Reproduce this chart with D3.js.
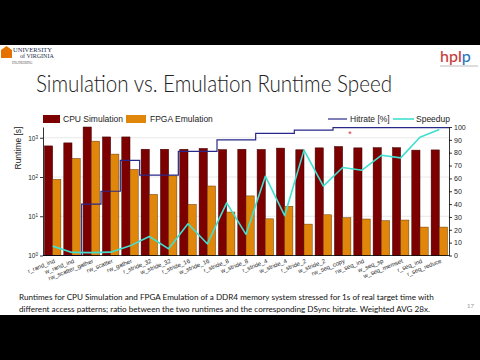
<!DOCTYPE html>
<html><head><meta charset="utf-8">
<script src="https://cdn.jsdelivr.net/npm/d3@7"></script>
<style>html,body{margin:0;padding:0;background:#000;} svg{display:block}</style>
</head><body>
<svg id="c" width="480" height="360"></svg>
<script>
// ---------- data ----------
const categories = ["r_rand_ind","w_rand_ind","rw_scatter_gather","rw_scatter","rw_gather",
  "r_stride_32","w_stride_32","r_stride_16","w_stride_16","r_stride_8","w_stride_8",
  "r_stride_4","w_stride_4","r_stride_2","w_stride_2","rw_seq_copy","rw_seq_ind",
  "w_seq_sp","w_seq_memset","r_seq_ind","r_seq_reduce"];
const cpuSim   = [620,740,2000,1050,1050,510,510,510,535,500,510,505,545,494,553,600,553,560,560,484,490];
const fpgaEmu  = [87,297,819,383,156,36,107,20,59,12.8,33,8.6,18,6.3,10.9,9.2,8.5,7.7,8.0,5.3,5.3];
const hitrate  = [0,0,40,50,74,62.5,62.5,81,81,90,90,95,95,97.5,97.5,99.5,99.5,99.5,99.5,99.5,99.5];
const speedup  = [7.3,2.4,2.2,2.6,7.5,14.8,5.2,24.7,9.1,41,16.4,61.7,31,82,54,68.5,66.4,78,76,92,98];
const leftTicks  = [1,10,100,1000];
const leftTickExp = ["0","1","2","3"];
const rightTicks = [0,10,20,30,40,50,60,70,80,90,100];
const seriesNames = ["CPU Simulation","FPGA Emulation"];
const lineNames = ["Hitrate [%]","Speedup"];
const title = "Simulation vs. Emulation Runtime Speed";
const caption1 = "Runtimes for CPU Simulation and FPGA Emulation of a DDR4 memory system stressed for 1s of real target time with";
const caption2 = "different access patterns; ratio between the two runtimes and the corresponding DSync hitrate. Weighted AVG 28x.";

// ---------- styles ----------
const cpuColor = "#7d0000", fpgaColor = "#e0860a", hitColor = "#28288a", spdColor = "#3fe0d0";
const svg = d3.select("#c");
svg.append("rect").attr("x",0).attr("y",45).attr("width",480).attr("height",270).attr("fill","#fff");

// logos
const uva = svg.append("g");
uva.append("rect").attr("x",1).attr("y",50).attr("width",11).attr("height",8).attr("fill","#e57200");
uva.append("path").attr("d","M1,50 L6.5,46 L12,50 Z").attr("fill","#e57200");
uva.append("text").attr("x",13).attr("y",52).attr("font-family","Liberation Serif").attr("font-size",6.5).attr("fill","#232d4b").text("UNIVERSITY");
uva.append("text").attr("x",20).attr("y",58).attr("font-family","Liberation Serif").attr("font-size",6).attr("fill","#232d4b").text("of VIRGINIA");
uva.append("text").attr("x",12).attr("y",64).attr("font-family","Liberation Serif").attr("font-size",3).attr("fill","#555").text("ENGINEERING");
const hp = svg.append("text").attr("x",440).attr("y",62).attr("font-family","Lato, sans-serif").attr("font-size",16).attr("font-weight",500);
hp.append("tspan").attr("fill","#c83a3a").text("hpl");
hp.append("tspan").attr("fill","#2a78c0").text("p");
svg.append("line").attr("x1",440).attr("x2",478).attr("y1",66).attr("y2",66).attr("stroke","#bbb").attr("stroke-width",1);

// title
svg.append("text").attr("x",36).attr("y",92).attr("font-family","Lato, sans-serif").attr("font-weight",300)
  .attr("font-size",23).attr("fill","#222").attr("textLength",356).attr("lengthAdjust","spacingAndGlyphs").text(title);

// ---------- chart ----------
const L = 43, R = 449, T = 127, B = 255.5;
const x0 = d3.scaleBand().domain(categories).range([L,R]).paddingInner(0.15).paddingOuter(0.075);
const x1 = d3.scaleBand().domain(["cpu","fpga"]).range([0,x0.bandwidth()]);
const yL = d3.scaleLog().domain([1,1880]).range([B,T]).clamp(true);
const yR = d3.scaleLinear().domain([0,100]).range([B,T]);

// grid
svg.append("g").selectAll("line").data(leftTicks.slice(1)).join("line")
  .attr("x1",L).attr("x2",R).attr("y1",d=>yL(d)).attr("y2",d=>yL(d))
  .attr("stroke","#e2e2e2").attr("stroke-width",0.8);

// bars
const g = svg.append("g");
categories.forEach((c,i)=>{
  g.append("rect").attr("x",x0(c)+x1("cpu")).attr("width",x1.bandwidth())
    .attr("y",yL(cpuSim[i])).attr("height",B-yL(cpuSim[i]))
    .attr("fill",cpuColor).attr("stroke","#3a0000").attr("stroke-width",0.5);
  g.append("rect").attr("x",x0(c)+x1("fpga")).attr("width",x1.bandwidth())
    .attr("y",yL(fpgaEmu[i])).attr("height",B-yL(fpgaEmu[i]))
    .attr("fill",fpgaColor).attr("stroke","#6a3a00").attr("stroke-width",0.5);
});

// hitrate step line
const step = x0.step();
const hitPts = hitrate.map((h,i)=>[L+i*step,h]);
hitPts.push([R,hitrate[hitrate.length-1]]);
svg.append("path").datum(hitPts)
  .attr("d",d3.line().x(d=>d[0]).y(d=>yR(d[1])).curve(d3.curveStepAfter))
  .attr("fill","none").attr("stroke",hitColor).attr("stroke-width",1.2);

// speedup line
svg.append("path").datum(speedup)
  .attr("d",d3.line().x((d,i)=>x0(categories[i])+x0.bandwidth()/2).y(d=>yR(d)))
  .attr("fill","none").attr("stroke",spdColor).attr("stroke-width",1.6).attr("stroke-linejoin","round");

// red marker
svg.append("text").attr("x",350).attr("y",137).attr("text-anchor","middle").attr("font-family","Liberation Sans").attr("font-size",9).attr("fill","#e03030").text("*");

// axes
const axL = svg.append("g").attr("transform",`translate(${L},0)`)
  .call(d3.axisLeft(yL).tickValues(leftTicks).tickFormat("").tickSize(3).tickSizeOuter(0));
axL.selectAll(".tick").append("text").attr("x",-5).attr("dy","0.35em").attr("text-anchor","end")
  .attr("fill","#222").attr("font-family","Liberation Sans").attr("font-size",6.5)
  .each(function(d,i){
    const t = d3.select(this);
    t.append("tspan").text("10");
    t.append("tspan").attr("dy","-0.45em").attr("font-size",4.5).text(leftTickExp[i]);
  });
const axR = svg.append("g").attr("transform",`translate(${R},0)`)
  .call(d3.axisRight(yR).tickValues(rightTicks).tickSize(3).tickSizeOuter(0));
axR.selectAll("text").attr("font-family","Liberation Sans").attr("font-size",7).attr("fill","#222").attr("x",5);
svg.append("line").attr("x1",L).attr("x2",R).attr("y1",B).attr("y2",B).attr("stroke","#000").attr("stroke-width",0.8);
[axL,axR].forEach(a=>{a.selectAll("path,line").attr("stroke","#000").attr("stroke-width",0.8);});

// x labels
svg.append("g").selectAll("text").data(categories).join("text")
  .attr("transform",d=>`translate(${x0(d)+x0.bandwidth()/2+1},${B+3}) rotate(-22)`)
  .attr("dy","0.7em").attr("text-anchor","end")
  .attr("font-family","Liberation Sans").attr("font-size",6).attr("fill","#222").text(d=>d);

// y label
svg.append("text").attr("transform","translate(21,148) rotate(-90)").attr("text-anchor","middle")
  .attr("font-family","Liberation Sans").attr("font-size",8.5).attr("fill","#222").text("Runtime [s]");

// legends
const lg = svg.append("g").attr("font-family","Liberation Sans").attr("font-size",8.5).attr("fill","#222");
lg.append("rect").attr("x",43).attr("y",115).attr("width",17).attr("height",8).attr("fill",cpuColor);
lg.append("text").attr("x",63).attr("y",122).text(seriesNames[0]);
lg.append("rect").attr("x",126).attr("y",115).attr("width",20).attr("height",8).attr("fill",fpgaColor);
lg.append("text").attr("x",150).attr("y",122).text(seriesNames[1]);
lg.append("line").attr("x1",328).attr("x2",347).attr("y1",119).attr("y2",119).attr("stroke",hitColor).attr("stroke-width",1.2);
lg.append("text").attr("x",350).attr("y",122).text(lineNames[0]);
lg.append("line").attr("x1",393).attr("x2",414).attr("y1",119).attr("y2",119).attr("stroke",spdColor).attr("stroke-width",1.6);
lg.append("text").attr("x",416).attr("y",122).text(lineNames[1]);

// caption
const cap = svg.append("g").attr("font-family","Lato, sans-serif").attr("font-size",8.15).attr("fill","#111");
cap.append("text").attr("x",19).attr("y",300).text(caption1);
cap.append("text").attr("x",19).attr("y",311.5).text(caption2);
svg.append("text").attr("x",467).attr("y",308).attr("font-family","Lato, sans-serif").attr("font-size",6).attr("fill","#999").text("17");
</script>
</body></html>
